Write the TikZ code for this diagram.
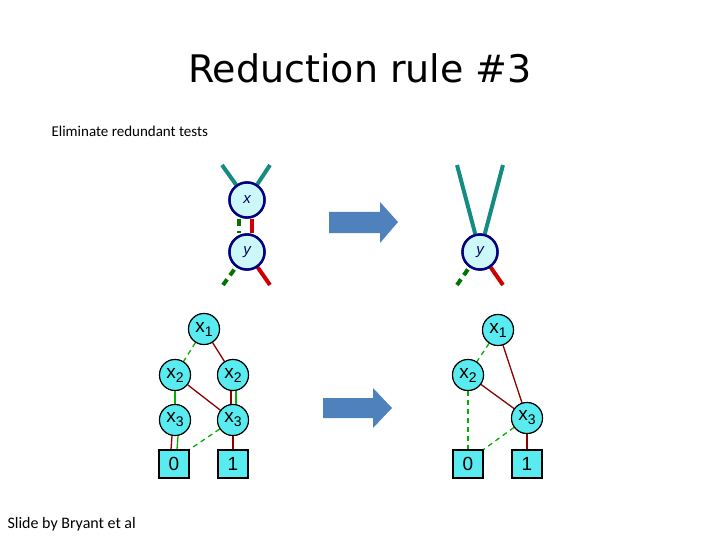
\documentclass[tikz,border=0pt]{standalone}
\usepackage{fontspec}
\setmainfont{Carlito}
\newfontfamily\lib{Liberation Sans}
\newfontfamily\ttl{DejaVu Sans}
\definecolor{tealc}{RGB}{20,140,130}
\definecolor{arrc}{RGB}{79,129,189}
\definecolor{cyanb}{RGB}{90,235,240}
\definecolor{cyant}{RGB}{205,248,250}
\newcommand{\xv}[1]{x\raisebox{-4pt}{\fontsize{14}{14}\selectfont #1}}
\begin{document}
\begin{tikzpicture}[x=1pt,y=-1pt,
 tnode/.style={circle,draw=blue!50!black,line width=2.4pt,fill=cyant,minimum size=35pt,inner sep=0pt,font=\lib\itshape\fontsize{15}{15}\selectfont,text=blue!40!black},
 bnode/.style={circle,draw=black,line width=1.1pt,fill=cyanb,minimum size=31pt,inner sep=0pt,font=\lib\fontsize{19}{19}\selectfont},
 bbox/.style={rectangle,draw=black,line width=1.1pt,fill=cyanb,minimum width=30pt,minimum height=28pt,inner sep=0pt,font=\lib\fontsize{19}{19}\selectfont},
 teal/.style={draw=tealc,line width=4pt},
 gd/.style={draw=green!45!black,line width=4pt,dash pattern=on 7pt off 5pt},
 rd/.style={draw=red!80!black,line width=4pt},
 ge/.style={draw=green!70!black,line width=1.3pt,dash pattern=on 5pt off 4pt},
 gs/.style={draw=green!70!black,line width=1.3pt},
 re/.style={draw=red!55!black,line width=1.3pt},
 bigarrow/.style={fill=arrc}]
\useasboundingbox (0,0) rectangle (720,540);
\node[font=\ttl\fontsize{38}{38}\selectfont] (title) at (360,68) {Reduction rule \#3};
\node[anchor=west,font=\fontsize{15}{15}\selectfont] (sub) at (48,131) {Eliminate redundant tests};
\node[anchor=west,font=\fontsize{16}{16}\selectfont] (cred) at (4,524) {Slide by Bryant et al};
% top left
\coordinate (a1) at (222,165); \coordinate (a2) at (270,165);
\coordinate (a3) at (223,285); \coordinate (a4) at (270,285);
\coordinate (b1) at (457,165); \coordinate (b2) at (503,165);
\coordinate (b3) at (457,285); \coordinate (b4) at (503,285);
\node[tnode] (x) at (247,200) {x};
\node[tnode] (y) at (247,252) {y};
\draw[teal] (a1) -- (x); \draw[teal] (a2) -- (x);
\draw[gd] ([xshift=-8pt]x.south) -- ([xshift=-8pt]y.north);
\draw[rd] ([xshift=5pt]x.south) -- ([xshift=5pt]y.north);
\draw[gd] (a3) -- (y); \draw[rd] (a4) -- (y);
\node[tnode] at (x) {x};
\node[tnode] at (y) {y};
% top right
\node[tnode] (y2) at (480,252) {y};
\draw[teal] (b1) -- (y2); \draw[teal] (b2) -- (y2);
\draw[gd] (b3) -- (y2); \draw[rd] (b4) -- (y2);
\node[tnode] at (y2) {y};
% arrows
\fill[bigarrow] (329,212) -- (380,212) -- (380,202) -- (398,222) -- (380,243) -- (380,233) -- (329,233) -- cycle;
\fill[bigarrow] (323,398) -- (373,398) -- (373,388) -- (392,408) -- (373,428) -- (373,418) -- (323,418) -- cycle;
% bottom left
\node[bnode] (l1) at (204,329) {\xv1};
\node[bnode] (l2a) at (175,375) {\xv2};
\node[bnode] (l2b) at (233,375) {\xv2};
\node[bnode] (l3a) at (175,420) {\xv3};
\node[bnode] (l3b) at (233,420) {\xv3};
\node[bbox] (l0) at (174,464) {0};
\node[bbox] (lone) at (233,464) {1};
\draw[ge] (l1) -- (l2a); \draw[re] (l1) -- (l2b);
\draw[gs] (l2a) -- (l3a); \draw[re] (l2a) -- (l3b);
\draw[re] ([xshift=-2pt]l2b.south) -- ([xshift=-2pt]l3b.north);
\draw[gs] ([xshift=3pt]l2b.south) -- ([xshift=3pt]l3b.north);
\draw[re] ([xshift=-3pt]l3a.south) -- ([xshift=-3pt]l0.north);
\draw[gs] ([xshift=3pt]l3a.south) -- ([xshift=3pt]l0.north);
\draw[ge] (l3b) -- (l0.north east); \draw[re] (l3b) -- (lone);
\foreach \n/\t in {l1/1,l2a/2,l2b/2,l3a/3,l3b/3} \node[bnode] at (\n) {\xv\t};
\node[bbox] at (l0) {0}; \node[bbox] at (lone) {1};
% bottom right
\node[bnode] (r1) at (498,330) {\xv1};
\node[bnode] (r2) at (468,375) {\xv2};
\node[bnode] (r3) at (527,418) {\xv3};
\node[bbox] (r0) at (468,464) {0};
\node[bbox] (rone) at (527,464) {1};
\draw[ge] (r1) -- (r2); \draw[re] (r1) -- (r3); \draw[re] (r2) -- (r3);
\draw[ge] (r2) -- (r0); \draw[ge] (r3) -- (r0.north east); \draw[re] (r3) -- (rone);
\foreach \n/\t in {r1/1,r2/2,r3/3} \node[bnode] at (\n) {\xv\t};
\end{tikzpicture}
\end{document}
